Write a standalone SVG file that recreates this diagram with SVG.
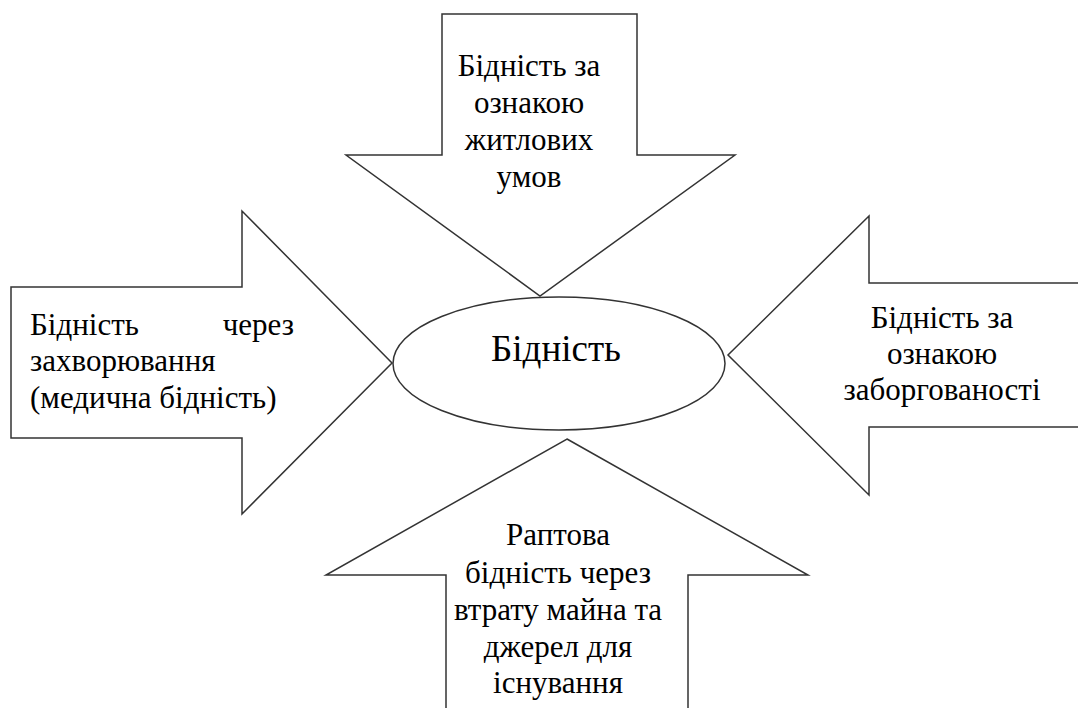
<svg xmlns="http://www.w3.org/2000/svg" width="1078" height="708" viewBox="0 0 1078 708" xml:lang="uk" lang="uk">
<style>
.sh{fill:#fff;stroke:#333;stroke-width:1.5}
.t{font-family:'Liberation Serif',serif;font-size:31px;fill:#000}
.c{text-anchor:middle}
</style>
<rect width="1078" height="708" fill="#fff"/>
<g id="top-arrow">
<polygon class="sh" points="442,14 637,14 637,155 735,155 540,296 346,155 442,155"/>
<text class="t c" font-family="Liberation Serif, serif" x="529" y="76">Бідність за</text>
<text class="t c" font-family="Liberation Serif, serif" x="529" y="113">ознакою</text>
<text class="t c" font-family="Liberation Serif, serif" x="529" y="150">житлових</text>
<text class="t c" font-family="Liberation Serif, serif" x="529" y="187">умов</text>
</g>
<g id="left-arrow">
<polygon class="sh" points="11,287 242,287 242,211 392,363 242,514 242,438 11,438"/>
<text class="t" font-family="Liberation Serif, serif" x="30" y="335">Бідність</text>
<text class="t" font-family="Liberation Serif, serif" x="294" y="335" text-anchor="end">через</text>
<text class="t" font-family="Liberation Serif, serif" x="30" y="371">захворювання</text>
<text class="t" font-family="Liberation Serif, serif" x="30" y="408">(медична бідність)</text>
</g>
<g id="right-arrow">
<polygon class="sh" points="1090,283 869,283 869,216 728,355 869,495 869,427 1090,427"/>
<text class="t c" font-family="Liberation Serif, serif" x="942" y="328">Бідність за</text>
<text class="t c" font-family="Liberation Serif, serif" x="942" y="364">ознакою</text>
<text class="t c" font-family="Liberation Serif, serif" x="942" y="400">заборгованості</text>
</g>
<g id="bottom-arrow">
<polygon class="sh" points="567,439 808,575 688,575 688,720 446,720 446,575 326,575"/>
<text class="t c" font-family="Liberation Serif, serif" x="558" y="545">Раптова</text>
<text class="t c" font-family="Liberation Serif, serif" x="558" y="583">бідність через</text>
<text class="t c" font-family="Liberation Serif, serif" x="558" y="620">втрату майна та</text>
<text class="t c" font-family="Liberation Serif, serif" x="558" y="657">джерел для</text>
<text class="t c" font-family="Liberation Serif, serif" x="558" y="693">існування</text>
</g>
<g id="center">
<ellipse class="sh" cx="559" cy="363.5" rx="166" ry="66.5"/>
<text class="t c" font-family="Liberation Serif, serif" x="556" y="361" style="font-size:37px">Бідність</text>
</g>
<g id="connectors"></g>
</svg>
